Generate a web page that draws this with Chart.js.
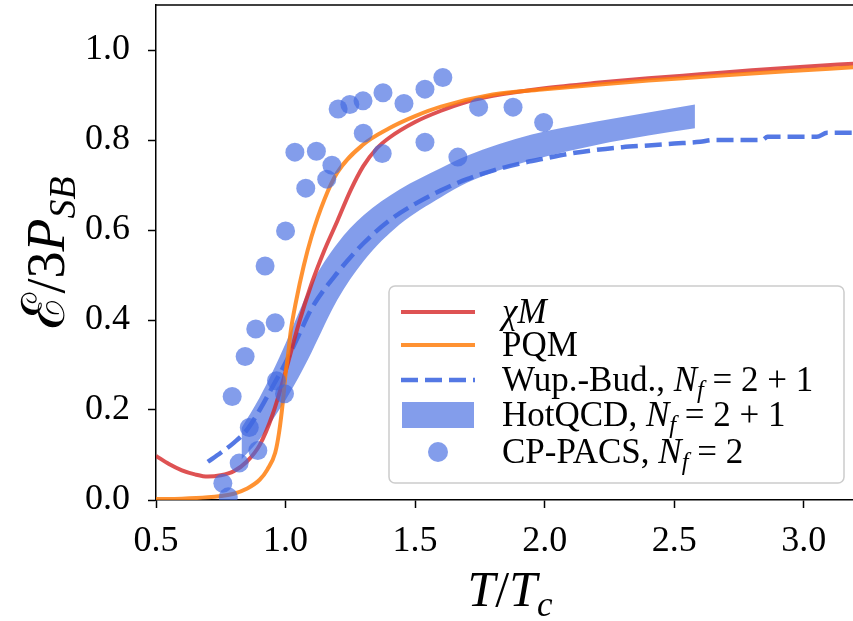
<!doctype html>
<html>

<head>
  <title>energy density vs T/Tc</title>
  <script src="https://cdn.jsdelivr.net/npm/chart.js@4.4.0/dist/chart.umd.min.js"></script>
  <style>
    body {
      margin: 0;
      background: #fff;
    }
    .chart {
      width: 853px;
      height: 621px;
    }
  </style>
</head>

<body>
  <div class="chart">
    <canvas id="myChart"></canvas>
  </div>

  <script>
    // chiral quark-meson model
    var chiT = [0.5, 0.55, 0.6, 0.65, 0.7, 0.75, 0.8, 0.85, 0.9, 0.95, 1.0, 1.05, 1.1, 1.15, 1.2, 1.25, 1.3, 1.35, 1.4, 1.5, 1.6, 1.7, 1.8, 2.0, 2.2, 2.4, 2.6, 2.8, 3.0, 3.2];
    var chiE = [0.098, 0.080, 0.066, 0.057, 0.052, 0.055, 0.064, 0.085, 0.122, 0.19, 0.285, 0.39, 0.48, 0.555, 0.62, 0.687, 0.742, 0.78, 0.805, 0.84, 0.865, 0.885, 0.898, 0.915, 0.927, 0.937, 0.946, 0.955, 0.963, 0.970];

    // Polyakov quark-meson model
    var pqmT = [0.5, 0.6, 0.7, 0.75, 0.8, 0.85, 0.9, 0.93, 0.96, 0.975, 0.99, 1.0, 1.01, 1.02, 1.04, 1.07, 1.1, 1.15, 1.2, 1.3, 1.4, 1.5, 1.6, 1.8, 2.0, 2.2, 2.4, 2.6, 2.8, 3.0, 3.2];
    var pqmE = [0.002, 0.003, 0.006, 0.009, 0.014, 0.025, 0.045, 0.068, 0.105, 0.15, 0.22, 0.28, 0.325, 0.375, 0.44, 0.52, 0.585, 0.668, 0.728, 0.79, 0.826, 0.853, 0.874, 0.901, 0.913, 0.923, 0.932, 0.940, 0.948, 0.955, 0.962];

    // Wuppertal-Budapest lattice, Nf = 2+1
    var wbT = [0.7, 0.75, 0.8, 0.85, 0.9, 0.95, 1.0, 1.05, 1.1, 1.2, 1.3, 1.4, 1.5, 1.6, 1.7, 1.8, 1.9, 2.0, 2.1, 2.2, 2.3, 2.4, 2.5, 2.6, 2.65, 2.84, 2.86, 3.05, 3.09, 3.2];
    var wbE = [0.085, 0.105, 0.127, 0.155, 0.2, 0.252, 0.305, 0.365, 0.425, 0.505, 0.57, 0.621, 0.658, 0.688, 0.713, 0.732, 0.747, 0.759, 0.770, 0.778, 0.784, 0.788, 0.792, 0.796, 0.800, 0.800, 0.807, 0.807, 0.816, 0.816];

    // HotQCD lattice band, Nf = 2+1
    var hotT = [0.83, 0.9, 0.95, 1.0, 1.05, 1.1, 1.2, 1.3, 1.44, 1.6, 1.7, 1.95, 2.2, 2.4, 2.58];
    var hotHi = [0.16, 0.228, 0.285, 0.348, 0.415, 0.48, 0.57, 0.632, 0.69, 0.738, 0.765, 0.812, 0.841, 0.861, 0.879];
    var hotLo = [0.09, 0.135, 0.178, 0.222, 0.272, 0.328, 0.445, 0.53, 0.612, 0.673, 0.705, 0.755, 0.789, 0.81, 0.826];

    // CP-PACS lattice points, Nf = 2
    var cpT = [1.203, 1.248, 1.299, 1.376, 1.457, 1.538, 1.607, 1.745, 1.878, 1.996, 1.300, 1.373, 1.538, 1.665, 1.036, 1.119, 1.179, 1.159, 1.078, 1.000, 0.921, 0.885, 0.960, 0.844, 0.965, 0.996, 0.794, 0.860, 0.893, 0.821, 0.758, 0.779];
    var cpE = [0.869, 0.879, 0.887, 0.905, 0.881, 0.913, 0.939, 0.873, 0.873, 0.839, 0.815, 0.770, 0.795, 0.762, 0.773, 0.775, 0.744, 0.713, 0.693, 0.598, 0.520, 0.380, 0.394, 0.319, 0.265, 0.236, 0.230, 0.161, 0.110, 0.082, 0.037, 0.007];

    var xTicks = [0.5, 1.0, 1.5, 2.0, 2.5, 3.0];
    var yTicks = [0.0, 0.2, 0.4, 0.6, 0.8, 1.0];

    // legend text pieces: [text, style]  style: '' upright, 'i' italic, 'si' italic subscript
    var legendLabels = [
      [['χ', 'i'], ['M', 'i']],
      [['PQM', '']],
      [['Wup.-Bud., ', ''], ['N', 'i'], ['f', 'si'], [' = 2 + 1', '']],
      [['HotQCD, ', ''], ['N', 'i'], ['f', 'si'], [' = 2 + 1', '']],
      [['CP-PACS, ', ''], ['N', 'i'], ['f', 'si'], [' = 2', '']]
    ];
    var xTitle = [['T', 'i'], ['/', ''], ['T', 'i'], ['c', 'si']];
    var yTitle = [['ℰ', 'c'], ['/3', ''], ['P', 'i'], ['SB', 'si']];

    var blue = 'rgba(65, 105, 225, 0.65)';
    var serif = '"Liberation Serif", "DejaVu Serif", serif';

    function pts(xs, ys) {
      return xs.map(function(x, i) {
        return { x: x, y: ys[i] };
      });
    }

    function drawRich(ctx, parts, x, y, size, center) {
      function fontFor(st) {
        var sz = st.indexOf('s') >= 0 ? size * 0.7 : size;
        var fam = serif;
        if (st === 'c') {
          sz = size * 1.1;
          fam = '"DejaVu Serif", serif';
        }
        return (st.indexOf('i') >= 0 ? 'italic ' : '') + sz + 'px ' + fam;
      }
      var w = 0;
      parts.forEach(function(p) {
        ctx.font = fontFor(p[1]);
        w += ctx.measureText(p[0]).width;
      });
      var cx = center ? x - w / 2 : x;
      ctx.textAlign = 'left';
      ctx.textBaseline = 'alphabetic';
      parts.forEach(function(p) {
        ctx.font = fontFor(p[1]);
        var dy = p[1].indexOf('s') >= 0 ? size * 0.2 : 0;
        ctx.fillText(p[0], cx, y + dy);
        cx += ctx.measureText(p[0]).width;
      });
    }

    var decorations = {
      id: 'decorations',
      afterDraw: function(chart) {
        var ctx = chart.ctx;
        var area = chart.chartArea;
        ctx.save();
        // top frame line
        ctx.strokeStyle = '#000';
        ctx.lineWidth = 1.5;
        ctx.beginPath();
        ctx.moveTo(area.left, area.top);
        ctx.lineTo(area.right, area.top);
        ctx.stroke();

        ctx.fillStyle = '#000';
        drawRich(ctx, xTitle, 510, 606, 50, true);
        ctx.save();
        ctx.translate(64, 253);
        ctx.rotate(-Math.PI / 2);
        drawRich(ctx, yTitle, 0, 0, 54, true);
        ctx.restore();

        // legend box
        var bx = 389, by = 286, bw = 455, bh = 197, r = 6;
        ctx.beginPath();
        ctx.moveTo(bx + r, by);
        ctx.arcTo(bx + bw, by, bx + bw, by + bh, r);
        ctx.arcTo(bx + bw, by + bh, bx, by + bh, r);
        ctx.arcTo(bx, by + bh, bx, by, r);
        ctx.arcTo(bx, by, bx + bw, by, r);
        ctx.closePath();
        ctx.fillStyle = 'rgba(255,255,255,0.8)';
        ctx.fill();
        ctx.strokeStyle = 'rgb(204,204,204)';
        ctx.lineWidth = 1.5;
        ctx.stroke();

        var rows = [312, 345, 380, 415, 452];
        var ds = chart.data.datasets;
        var byKey = {};
        ds.forEach(function(d) { byKey[d.key] = d; });
        var keys = ['chi', 'pqm', 'wb', 'hot', 'cp'];
        keys.forEach(function(k, i) {
          var d = byKey[k];
          var yy = rows[i];
          if (k === 'hot') {
            ctx.fillStyle = d.backgroundColor;
            ctx.fillRect(402, yy - 13, 72, 26);
          } else if (k === 'cp') {
            ctx.fillStyle = d.backgroundColor;
            ctx.beginPath();
            ctx.arc(438, yy, 10, 0, Math.PI * 2);
            ctx.fill();
          } else {
            ctx.strokeStyle = d.borderColor;
            ctx.lineWidth = d.borderWidth;
            ctx.setLineDash(d.borderDash || []);
            ctx.beginPath();
            ctx.moveTo(401, yy);
            ctx.lineTo(475, yy);
            ctx.stroke();
            ctx.setLineDash([]);
          }
          ctx.fillStyle = '#000';
          drawRich(ctx, legendLabels[i], 502, yy + 11, 35, false);
        });
        ctx.restore();
      }
    };

    var config = {
      type: 'line',
      data: {
        datasets: [{
          key: 'cp',
          data: pts(cpT, cpE),
          showLine: false,
          pointRadius: 9.5,
          pointBorderWidth: 0,
          backgroundColor: blue,
          pointBackgroundColor: blue,
          clip: 0
        }, {
          key: 'pqm',
          data: pts(pqmT, pqmE),
          borderColor: 'rgba(255, 127, 14, 0.85)',
          borderWidth: 4,
          pointRadius: 0,
          cubicInterpolationMode: 'monotone',
          fill: false,
          clip: 0
        }, {
          key: 'chi',
          data: pts(chiT, chiE),
          borderColor: 'rgba(214, 39, 40, 0.8)',
          borderWidth: 4,
          pointRadius: 0,
          cubicInterpolationMode: 'monotone',
          fill: false,
          clip: 0
        }, {
          key: 'wb',
          data: pts(wbT, wbE),
          borderColor: 'rgba(65, 105, 225, 0.9)',
          borderWidth: 4.5,
          borderDash: [17, 7],
          pointRadius: 0,
          cubicInterpolationMode: 'monotone',
          fill: false,
          clip: 0
        }, {
          key: 'hot',
          data: pts(hotT, hotHi),
          borderWidth: 0,
          borderColor: 'rgba(0,0,0,0)',
          backgroundColor: blue,
          pointRadius: 0,
          cubicInterpolationMode: 'monotone',
          fill: '+1',
          clip: 0
        }, {
          key: 'hotLo',
          data: pts(hotT, hotLo),
          borderWidth: 0,
          borderColor: 'rgba(0,0,0,0)',
          pointRadius: 0,
          cubicInterpolationMode: 'monotone',
          fill: false,
          clip: 0
        }]
      },
      options: {
        responsive: true,
        maintainAspectRatio: false,
        animation: false,
        layout: {
          autoPadding: false,
          padding: { top: 5, right: 0, left: 0, bottom: 0 }
        },
        plugins: {
          legend: { display: false },
          tooltip: { enabled: false }
        },
        scales: {
          x: {
            type: 'linear',
            min: 0.5,
            max: 3.19,
            afterBuildTicks: function(scale) {
              scale.ticks = xTicks.map(function(v) { return { value: v }; });
            },
            afterFit: function(scale) {
              scale.height = 121;
              scale.paddingLeft = 0;
              scale.paddingRight = 0;
            },
            border: { display: true, color: '#000', width: 1.5 },
            grid: {
              display: true,
              drawOnChartArea: false,
              drawTicks: true,
              tickLength: 8,
              tickWidth: 1.5,
              tickColor: '#000'
            },
            ticks: {
              color: '#000',
              padding: 12,
              maxRotation: 0,
              font: { family: serif, size: 36 },
              callback: function(v) { return v.toFixed(1); }
            }
          },
          y: {
            type: 'linear',
            min: 0,
            max: 1.1,
            afterBuildTicks: function(scale) {
              scale.ticks = yTicks.map(function(v) { return { value: v }; });
            },
            afterFit: function(scale) {
              scale.width = 156;
              scale.paddingTop = 0;
              scale.paddingBottom = 0;
            },
            border: { display: true, color: '#000', width: 1.5 },
            grid: {
              display: true,
              drawOnChartArea: false,
              drawTicks: true,
              tickLength: 8,
              tickWidth: 1.5,
              tickColor: '#000'
            },
            ticks: {
              color: '#000',
              padding: 18,
              font: { family: serif, size: 36 },
              callback: function(v) { return v.toFixed(1); }
            }
          }
        }
      },
      plugins: [decorations]
    };

    window.onload = function() {
      var ctx = document.getElementById('myChart').getContext('2d');
      window.myChart = new Chart(ctx, config);
    };
  </script>
</body>

</html>
